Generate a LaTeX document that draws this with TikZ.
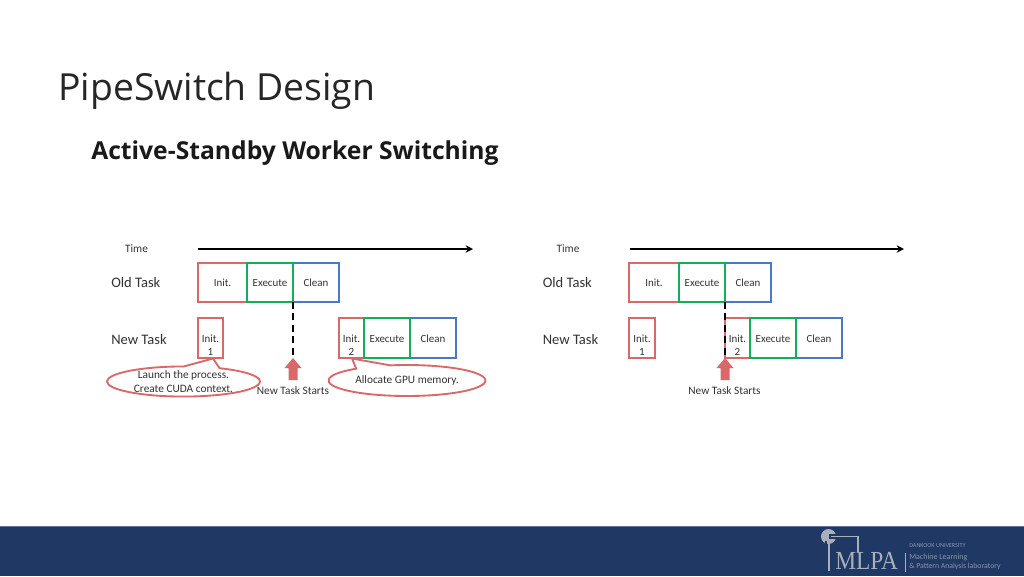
\documentclass[tikz,border=0pt]{standalone}
\usepackage{fontspec}
\setmainfont{Carlito}
\newfontfamily\titlefont{Open Sans}
\newfontfamily\logoserif{Liberation Serif}
\usetikzlibrary{shapes.callouts,calc,arrows.meta}
\definecolor{barblue}{HTML}{1F3864}
\definecolor{barline}{HTML}{5F7297}
\definecolor{redbox}{HTML}{D9686A}
\definecolor{greenbox}{HTML}{13AE5C}
\definecolor{bluebox}{HTML}{4A78C4}
\definecolor{inktext}{HTML}{333333}
\definecolor{logogray}{HTML}{A9B0BC}
\definecolor{logotext}{HTML}{8A96AE}
\tikzset{
  x=0.75pt,y=-0.75pt,
  taskbox/.style 2 args={draw=#2,line width=1.5pt,minimum width=#1*0.75pt,minimum height=39*0.75pt,inner sep=0pt,outer sep=0pt,anchor=north west,text=inktext,text height=7pt,text depth=1pt,font=\fontsize{8.2}{9}\selectfont},
  redb/.style={taskbox={#1}{redbox}},
  greenb/.style={taskbox={#1}{greenbox}},
  blueb/.style={taskbox={#1}{bluebox}},
  tall/.style={minimum height=40*0.75pt},
  rowlabel/.style={anchor=west,inner sep=0pt,text=inktext,font=\fontsize{10.9}{12}\selectfont},
  smalllabel/.style={inner sep=0pt,text=inktext,font=\fontsize{8.5}{9}\selectfont},
  boxtext/.style={inner sep=0pt,text=inktext,align=center,font=\fontsize{8.2}{9.6}\selectfont},
  timeline/.style={draw=black,line width=1.3pt,-{Stealth[length=5.5pt,width=5.5pt]}},
  startline/.style={draw=black,line width=1.5pt,dash pattern=on 5pt off 3.6pt},
  bubble/.style={ellipse callout,draw=redbox,fill=white,line width=1.4pt,inner sep=0pt,outer sep=0pt,text=inktext,align=center,font=\fontsize{8.5}{10}\selectfont,callout pointer arc=28},
  logosmall/.style={anchor=west,inner sep=0pt,text=logotext,font=\fontsize{4.6}{6}\selectfont},
}
\begin{document}
\begin{tikzpicture}
\useasboundingbox (0,0) rectangle (1024,576);
\fill[white] (0,0) rectangle (1024,576);
\fill[barblue] (0,526) rectangle (1024,576);
\draw[barline,line width=0.6pt] (0,526) -- (1024,526);
\node[anchor=west,inner sep=0pt,text=black!85,font=\titlefont\fontsize{28}{32}\selectfont] (title) at (58,91) {PipeSwitch Design};
\node[anchor=west,inner sep=0pt,text=black!90,font=\titlefont\bfseries\fontsize{18.5}{24}\selectfont] (subtitle) at (91,153) {Active-Standby Worker Switching};
% Left diagram
\node[smalllabel] (ltime) at (136.5,249) {Time};
\coordinate (lts) at (198,249);
\coordinate (lte) at (473,249);
\draw[timeline] (lts) -- (lte);
\node[rowlabel] (lold) at (111,282.5) {Old Task};
\node[rowlabel] (lnew) at (111,339) {New Task};
\node[redb=49] (loi) at (198,263) {Init.};
\node[blueb=46] (loc) at (293,263) {Clean};
\node[greenb=46] (loe) at (247,263) {Execute};
\node[redb=25,tall] (ln1) at (198,318) {};
\node[redb=25,tall] (ln2) at (339,318) {};
\node[blueb=46,tall] (lnc) at (410,318) {Clean};
\node[greenb=46,tall] (lne) at (364,318) {Execute};
\node[boxtext] (ln1t) at ($(ln1.center)+(0,7)$) {Init.\\1};
\node[boxtext] (ln2t) at ($(ln2.center)+(0,7)$) {Init.\\2};
\coordinate (ltip) at (293,358);
\draw[startline] (loc.south west) -- (ltip);
\fill[redbox] (ltip) -- ++(8.5,10) -- ++(-4,0) -- ++(0,12) -- ++(-9,0) -- ++(0,-12) -- ++(-4,0) -- cycle;
\node[smalllabel] (lstart) at (293,391) {New Task Starts};
\node[bubble,minimum width=153*0.75pt,minimum height=29*0.75pt,callout absolute pointer={(213,358.5)}] (lb1) at (183.5,381.5) {Launch the process.\\Create CUDA context.};
\node[bubble,minimum width=157*0.75pt,minimum height=31*0.75pt,callout absolute pointer={(352,358.5)}] (lb2) at (407,380.5) {Allocate GPU memory.};
% Right diagram
\node[smalllabel] (rtime) at (568,249) {Time};
\coordinate (rts) at (630,249);
\coordinate (rte) at (904,249);
\draw[timeline] (rts) -- (rte);
\node[rowlabel] (rold) at (542.5,282.5) {Old Task};
\node[rowlabel] (rnew) at (542.5,339) {New Task};
\node[redb=50] (roi) at (629,263) {Init.};
\node[blueb=46] (roc) at (725,263) {Clean};
\node[greenb=46] (roe) at (679,263) {Execute};
\node[redb=26,tall] (rn1) at (629,318) {};
\node[redb=25,tall] (rn2) at (725,318) {};
\node[blueb=46,tall] (rnc) at (796,318) {Clean};
\node[greenb=46,tall] (rne) at (750,318) {Execute};
\node[boxtext] (rn1t) at ($(rn1.center)+(0,7)$) {Init.\\1};
\node[boxtext] (rn2t) at ($(rn2.center)+(0,7)$) {Init.\\2};
\coordinate (rtip) at (725,358);
\draw[startline] (roc.south west) -- (rtip);
\fill[redbox] (rtip) -- ++(8.5,10) -- ++(-4,0) -- ++(0,12) -- ++(-9,0) -- ++(0,-12) -- ++(-4,0) -- cycle;
\node[smalllabel] (rstart) at (724.5,391) {New Task Starts};
% Logo
\fill[logogray] (828.5,536.5) circle[radius=7.5];
\fill[barblue] (829,534) rectangle (837,539);
\fill[barblue] (825,541) rectangle (827,545);
\draw[logogray,line width=0.8pt] (831,536.5) -- (858,536.5) -- (858,552);
\draw[logogray,line width=1.6pt] (829,543) -- (829,571);
\node[anchor=west,inner sep=0pt,xscale=0.9,text=logogray,font=\logoserif\fontsize{19.5}{22}\selectfont] (mlpa) at (835,561) {MLPA};
\draw[logogray,line width=0.4pt] (905,553) -- (905,572);
\node[logosmall] (lg1) at (909,546) {DANKOOK UNIVERSITY};
\node[logosmall,font=\fontsize{6}{7}\selectfont] (lg2) at (909,557) {Machine Learning};
\node[logosmall,font=\fontsize{5.8}{7}\selectfont] (lg3) at (909,566) {\& Pattern Analysis laboratory};
\end{tikzpicture}
\end{document}
